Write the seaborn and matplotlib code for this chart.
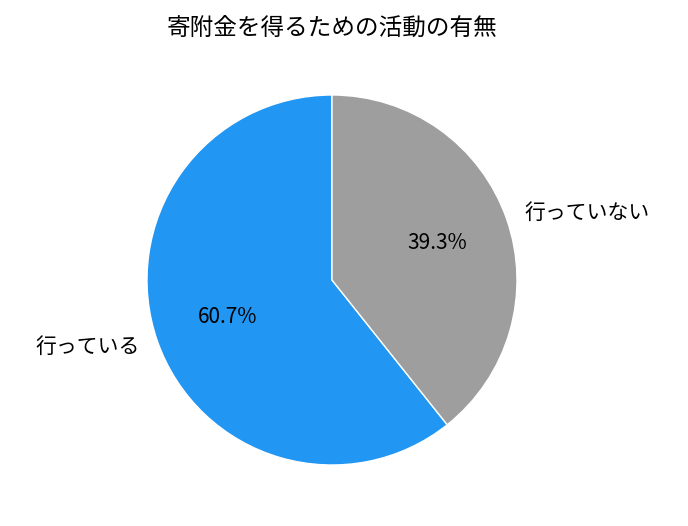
import matplotlib
matplotlib.use("Agg")
import matplotlib.pyplot as plt
import seaborn as sns

sns.set_theme(style="white")
plt.rcParams['font.family'] = ['Noto Sans CJK JP', 'DejaVu Sans']

labels = ["行っている", "行っていない"]
values = [60.7, 39.3]
colors = ["#2196F3", "#9E9E9E"]

fig = plt.figure(figsize=(6.88, 5.26), dpi=100)
# axes box fits the pie circle exactly
ax = fig.add_axes([147 / 688, 61 / 526, 370 / 688, 370 / 526])
wedges, texts, autotexts = ax.pie(values, labels=labels, colors=colors, autopct="%1.1f%%",
                                  startangle=90, counterclock=True, radius=1.0,
                                  textprops={'fontsize': 15, 'color': 'black'})
for t in texts + autotexts:
    t.set_clip_on(False)
for w in wedges:
    w.set_clip_on(False)
ax.set_xlim(-1, 1)
ax.set_ylim(-1, 1)
ax.set_aspect('equal')
fig.text(332 / 688, 1 - 28 / 526, "寄附金を得るための活動の有無", fontsize=17,
         color='black', ha='center', va='center')
fig.savefig("out.png", dpi=100)
